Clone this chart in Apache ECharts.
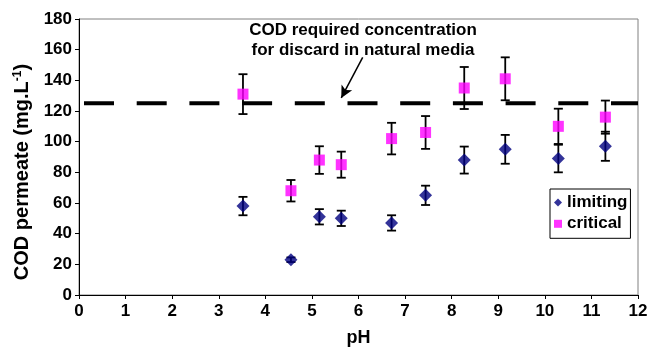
<!DOCTYPE html>
<html>
<head>
<meta charset="utf-8">
<script src="https://cdn.jsdelivr.net/npm/echarts@6/dist/echarts.min.js"></script>
<style>
  html, body { margin: 0; padding: 0; background: #fff; }
  #chart { width: 648px; height: 348px; }
</style>
</head>
<body>
<div id="chart"></div>
<script>
// pH of each run
const phValues = [3.52, 4.55, 5.16, 5.63, 6.71, 7.44, 8.27, 9.15, 10.29, 11.3];
// COD in permeate (mg/L) and standard deviation
const limitingCod = [58, 23, 51, 50, 47, 65, 88, 95, 89, 97];
const limitingErr = [6, 1.5, 5, 5, 5, 6.3, 8.8, 9.4, 9, 9.5];
const criticalCod = [131, 68, 88, 85, 102, 106, 135, 141, 110, 116];
const criticalErr = [13, 7, 9, 8.5, 10.3, 10.7, 13.7, 14, 11.5, 10.8];
// Discharge limit for COD
const codLimit = 125;
const xTicks = [0, 12];
const yTicks = [0, 180];

const FONT = 'Liberation Sans, Arial, sans-serif';

function pairs(xs, ys, es) {
  return xs.map((x, i) => es ? [x, ys[i], es[i]] : [x, ys[i]]);
}

function errorBars(name, data) {
  return {
    type: 'custom',
    name: name + '-err',
    data: data,
    z: 3,
    silent: true,
    encode: { x: 0, y: 1 },
    renderItem: function (params, api) {
      const x = api.value(0), y = api.value(1), e = api.value(2);
      const top = api.coord([x, y + e]);
      const bot = api.coord([x, y - e]);
      const cap = 4.5;
      const style = { stroke: '#000', lineWidth: 1.8 };
      return {
        type: 'group',
        children: [
          { type: 'line', shape: { x1: top[0], y1: top[1], x2: bot[0], y2: bot[1] }, style: style },
          { type: 'line', shape: { x1: top[0] - cap, y1: top[1], x2: top[0] + cap, y2: top[1] }, style: style },
          { type: 'line', shape: { x1: bot[0] - cap, y1: bot[1], x2: bot[0] + cap, y2: bot[1] }, style: style }
        ]
      };
    }
  };
}

const chart = echarts.init(document.getElementById('chart'), null, { renderer: 'canvas' });

chart.setOption({
  animation: false,
  backgroundColor: '#fff',
  textStyle: { fontFamily: FONT },
  grid: {
    left: 79, right: 10, top: 19, bottom: 53,
    outerBoundsMode: 'none', containLabel: false,
    show: true, borderColor: '#808080', borderWidth: 1
  },
  xAxis: {
    type: 'value', min: xTicks[0], max: xTicks[1], interval: 1,
    name: 'pH', nameLocation: 'middle', nameGap: 34,
    nameTextStyle: { fontFamily: FONT, fontWeight: 'bold', fontSize: 18, color: '#000' },
    axisLine: { show: true, lineStyle: { color: '#000', width: 1 } },
    axisTick: { show: true, inside: false, length: 4, lineStyle: { color: '#000' } },
    axisLabel: { fontFamily: FONT, fontWeight: 'bold', fontSize: 17, color: '#000', margin: 8 },
    splitLine: { show: false }
  },
  yAxis: {
    type: 'value', min: yTicks[0], max: yTicks[1], interval: 20,
    name: '{n|COD permeate (mg.L}{s|-1}{n|)}', nameLocation: 'middle', nameGap: 44, nameRotate: 90,
    nameTextStyle: {
      padding: [0, 30, 0, 0],
      rich: {
        n: { fontFamily: FONT, fontWeight: 'bold', fontSize: 20, color: '#000' },
        s: { fontFamily: FONT, fontWeight: 'bold', fontSize: 12, color: '#000', verticalAlign: 'top', padding: [0, 0, 10, 0] }
      }
    },
    axisLine: { show: true, lineStyle: { color: '#000', width: 1 } },
    axisTick: { show: true, inside: false, length: 4, lineStyle: { color: '#000' } },
    axisLabel: { fontFamily: FONT, fontWeight: 'bold', fontSize: 17, color: '#000', margin: 7 },
    splitLine: { show: false }
  },
  legend: {
    left: 550, top: 189,
    orient: 'vertical', itemGap: 1.3, itemWidth: 8, itemHeight: 8,
    padding: [3.5, 3, 4.5, 4],
    borderColor: '#000', borderWidth: 1, backgroundColor: '#fff',
    textStyle: { fontFamily: FONT, fontWeight: 'bold', fontSize: 17, lineHeight: 20, color: '#000' },
    data: [
      { name: 'limiting', icon: 'diamond' },
      { name: 'critical', icon: 'rect' }
    ]
  },
  graphic: [
    {
      type: 'text', x: 363, y: 20, z: 10,
      style: {
        text: 'COD required concentration\nfor discard in natural media',
        fontFamily: FONT, fontWeight: 'bold', fontSize: 17, lineHeight: 20,
        fill: '#000', align: 'center', verticalAlign: 'top'
      }
    }
  ],
  series: [
    {
      type: 'line', name: 'limit', data: [[xTicks[0], codLimit], [xTicks[1], codLimit]],
      symbol: 'none', silent: true, z: 1,
      lineStyle: { color: '#000', width: 4, type: [30, 22.7], dashOffset: 47.7 },
      markLine: {
        silent: true, symbol: ['none', 'arrow'], symbolSize: [9, 12],
        lineStyle: { color: '#000', width: 1.5, type: 'solid' },
        label: { show: false },
        data: [[{ coord: [6.09, 155] }, { coord: [5.63, 128.5] }]]
      }
    },
    errorBars('limiting', pairs(phValues, limitingCod, limitingErr)),
    errorBars('critical', pairs(phValues, criticalCod, criticalErr)),
    {
      type: 'scatter', name: 'limiting', data: pairs(phValues, limitingCod),
      symbol: 'diamond', symbolSize: 13, z: 4,
      itemStyle: { color: '#000080' }
    },
    {
      type: 'scatter', name: 'critical', data: pairs(phValues, criticalCod),
      symbol: 'rect', symbolSize: 11, z: 4,
      itemStyle: { color: '#FF00FF' }
    }
  ]
});
</script>
</body>
</html>
